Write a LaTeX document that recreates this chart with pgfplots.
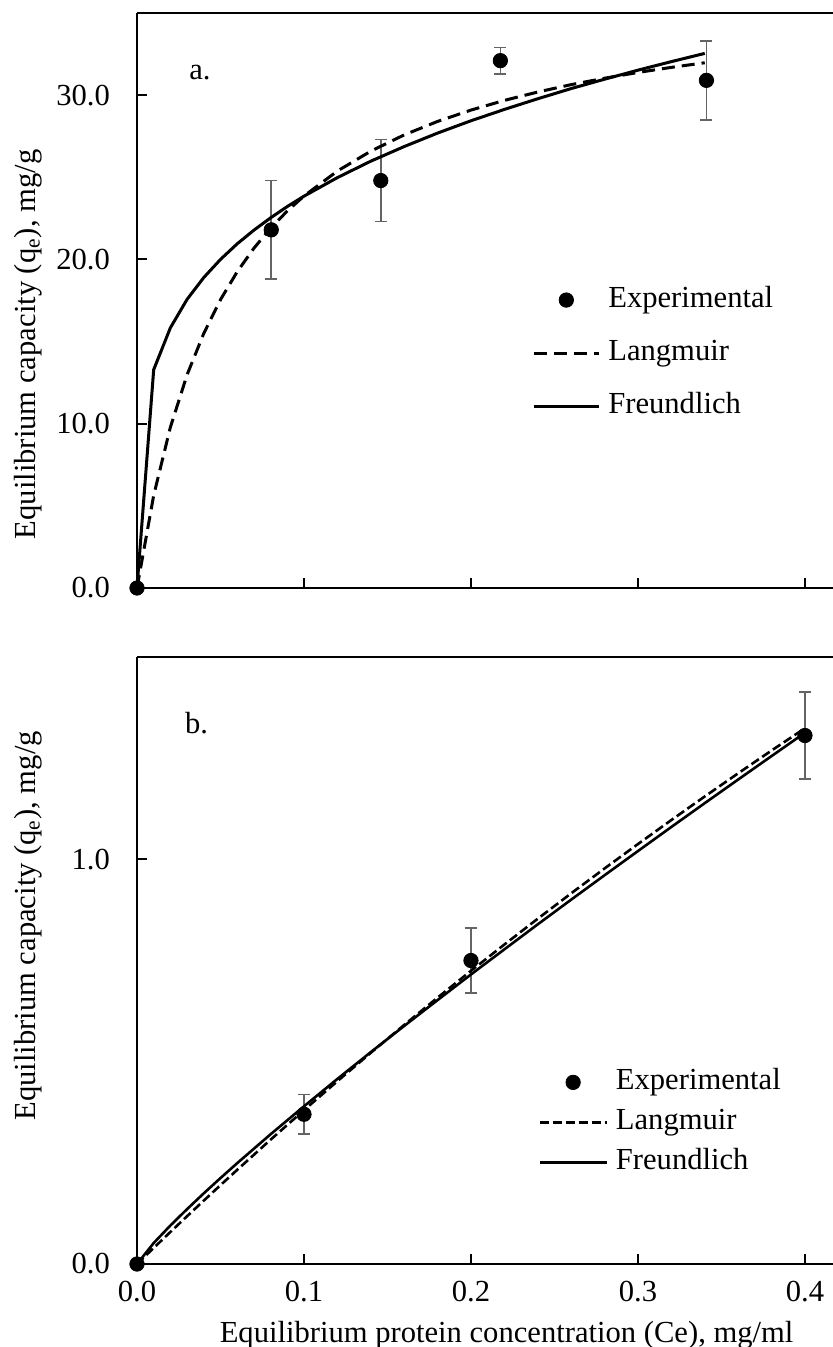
\documentclass[border=0pt]{standalone}
\usepackage{pgfplots}
\pgfplotsset{compat=1.18}
\usepackage{pgfplotstable}
\usepackage{fontspec}
\setmainfont{Liberation Serif}

\definecolor{errgray}{RGB}{100,100,100}

% Panel a: experimental points (C_e, q_e, error)
\pgfplotstableread{
x y e
0 0 0
0.0804 21.8 3.0
0.146 24.8 2.5
0.2176 32.1 0.8
0.341 30.9 2.4
}\expA

% Panel a: Langmuir fit
\pgfplotstableread{
x y
0 0
0.01 5.64
0.02 9.79
0.03 12.98
0.04 15.50
0.05 17.55
0.06 19.25
0.07 20.68
0.08 21.90
0.09 22.95
0.10 23.86
0.12 25.38
0.14 26.59
0.16 27.58
0.18 28.40
0.20 29.09
0.22 29.68
0.24 30.19
0.26 30.64
0.28 31.03
0.30 31.38
0.32 31.69
0.34 31.97
}\langA

% Panel a: Freundlich fit
\pgfplotstableread{
x y
0 0
0.01 13.29
0.02 15.84
0.03 17.57
0.04 18.90
0.05 20.00
0.06 20.95
0.07 21.78
0.08 22.53
0.09 23.22
0.10 23.85
0.12 24.98
0.14 25.98
0.16 26.87
0.18 27.69
0.20 28.44
0.22 29.13
0.24 29.78
0.26 30.40
0.28 30.97
0.30 31.52
0.32 32.04
0.34 32.54
}\freA

% Panel b: experimental points
\pgfplotstableread{
x y e
0 0 0
0.1 0.37 0.049
0.2 0.75 0.081
0.4 1.306 0.107
}\expB

% Panel b: Langmuir fit
\pgfplotstableread{
x y
0 0
0.01 0.0398
0.02 0.0792
0.03 0.1182
0.04 0.1567
0.05 0.1949
0.06 0.2327
0.08 0.3072
0.10 0.3802
0.12 0.4518
0.14 0.5219
0.16 0.5908
0.18 0.6583
0.20 0.7245
0.22 0.7895
0.24 0.8533
0.26 0.9160
0.28 0.9775
0.30 1.0378
0.32 1.0971
0.34 1.1554
0.36 1.2126
0.38 1.2689
0.40 1.3241
}\langB

% Panel b: Freundlich fit
\pgfplotstableread{
x y
0 0
0.01 0.0519
0.02 0.0952
0.03 0.1357
0.04 0.1747
0.05 0.2124
0.06 0.2492
0.08 0.3206
0.10 0.3897
0.12 0.4574
0.14 0.5236
0.16 0.5883
0.18 0.6522
0.20 0.7155
0.22 0.7776
0.24 0.8394
0.26 0.9004
0.28 0.9607
0.30 1.0205
0.32 1.0800
0.34 1.1389
0.36 1.1972
0.38 1.2552
0.40 1.3129
}\freB

\pgfplotsset{
  panel/.style={
    scale only axis,
    width=348pt,
    xmin=0, xmax=0.4168,
    axis x line*=box,
    axis y line*=left,
    xtick pos=left, ytick pos=left,
    axis line style={line width=1pt, black},
    tick align=inside,
    major tick length=5pt,
    every tick/.style={line width=1pt, black},
    xtick={0,0.1,0.2,0.3,0.4},
    clip=false,
    font=\fontsize{15.3}{18}\selectfont,
    /pgf/number format/assume math mode=true,
    xticklabel style={yshift=-5pt, /pgf/number format/.cd, fixed, fixed zerofill, precision=1},
    yticklabel style={xshift=-10pt, /pgf/number format/.cd, fixed, fixed zerofill, precision=1},
    ylabel={Equilibrium capacity (q\textsubscript{e}), mg/g},
    legend cell align=left,
    legend style={draw=none, fill=none, inner sep=0pt, anchor=west,
      column sep=4pt,
      nodes={inner sep=0pt, text height=11pt, text depth=3.5pt}},
  },
  expstyle/.style={only marks, mark=*, mark size=3.6pt, black,
    mark options={fill=black, draw=black},
    error bars/y dir=both,
    error bars/y explicit,
    error bars/error bar style={color=errgray, line width=0.8pt},
    error bars/error mark options={rotate=90, mark size=3pt, line width=0.8pt, color=errgray}},
  dotlegend/.style={legend image code/.code={%
    \draw[mark repeat=2, mark phase=2, ##1] plot coordinates {(0pt,0pt) (#1,0pt) (2*#1,0pt)};}},
  linelegend/.style={legend image code/.code={%
    \draw[##1] (0pt,0pt) -- (#1,0pt);}},
}

\begin{document}
\begin{tikzpicture}
\path[use as bounding box] (0pt,0pt) rectangle (416.5pt,-673.5pt);

% ---------- panel a ----------
\begin{axis}[panel,
  at={(68.5pt,-6.5pt)}, anchor=north west,
  height=287.5pt,
  ymin=0, ymax=35, ytick={0,10,20,30},
  xticklabels={},
  every axis y label/.style={at={(axis description cs:-0.1566,0.4236)}, rotate=90, anchor=center},
  legend style={at={(axis cs:0.2365,14.3)}, row sep=12pt},
]
\addplot[expstyle, dotlegend=16.25pt] table[x=x, y=y, y error=e] {\expA};
\addlegendentry{Experimental}
\addplot[black, line width=1.5pt, dash pattern=on 6.5pt off 3.5pt, linelegend=32.5pt] table[x=x, y=y] {\langA};
\addlegendentry{Langmuir}
\addplot[black, line width=1.5pt, linelegend=32.5pt] table[x=x, y=y] {\freA};
\addlegendentry{Freundlich}
\node[font=\fontsize{15.3}{18}\selectfont] at (axis cs:0.0377,31.4) {a.};
\end{axis}

% ---------- panel b ----------
\begin{axis}[panel,
  at={(68.5pt,-328.5pt)}, anchor=north west,
  height=303.5pt,
  ymin=0, ymax=1.5, ytick={0,1},
  xlabel={Equilibrium protein concentration (Ce), mg/ml},
  every axis x label/.style={at={(axis description cs:0.531,0)}, anchor=center, yshift=-35.5pt},
  every axis y label/.style={at={(axis description cs:-0.1566,0.557)}, rotate=90, anchor=center},
  legend style={at={(axis cs:0.2401,0.35)}, row sep=5.5pt},
]
\addplot[expstyle, dotlegend=16.75pt] table[x=x, y=y, y error=e] {\expB};
\addlegendentry{Experimental}
\addplot[black, line width=1.3pt, dash pattern=on 4.5pt off 2pt, linelegend=33.5pt] table[x=x, y=y] {\langB};
\addlegendentry{Langmuir}
\addplot[black, line width=1.3pt, linelegend=33.5pt] table[x=x, y=y] {\freB};
\addlegendentry{Freundlich}
\node[font=\fontsize{15.3}{18}\selectfont] at (axis cs:0.0357,1.336) {b.};
\end{axis}
\end{tikzpicture}
\end{document}
